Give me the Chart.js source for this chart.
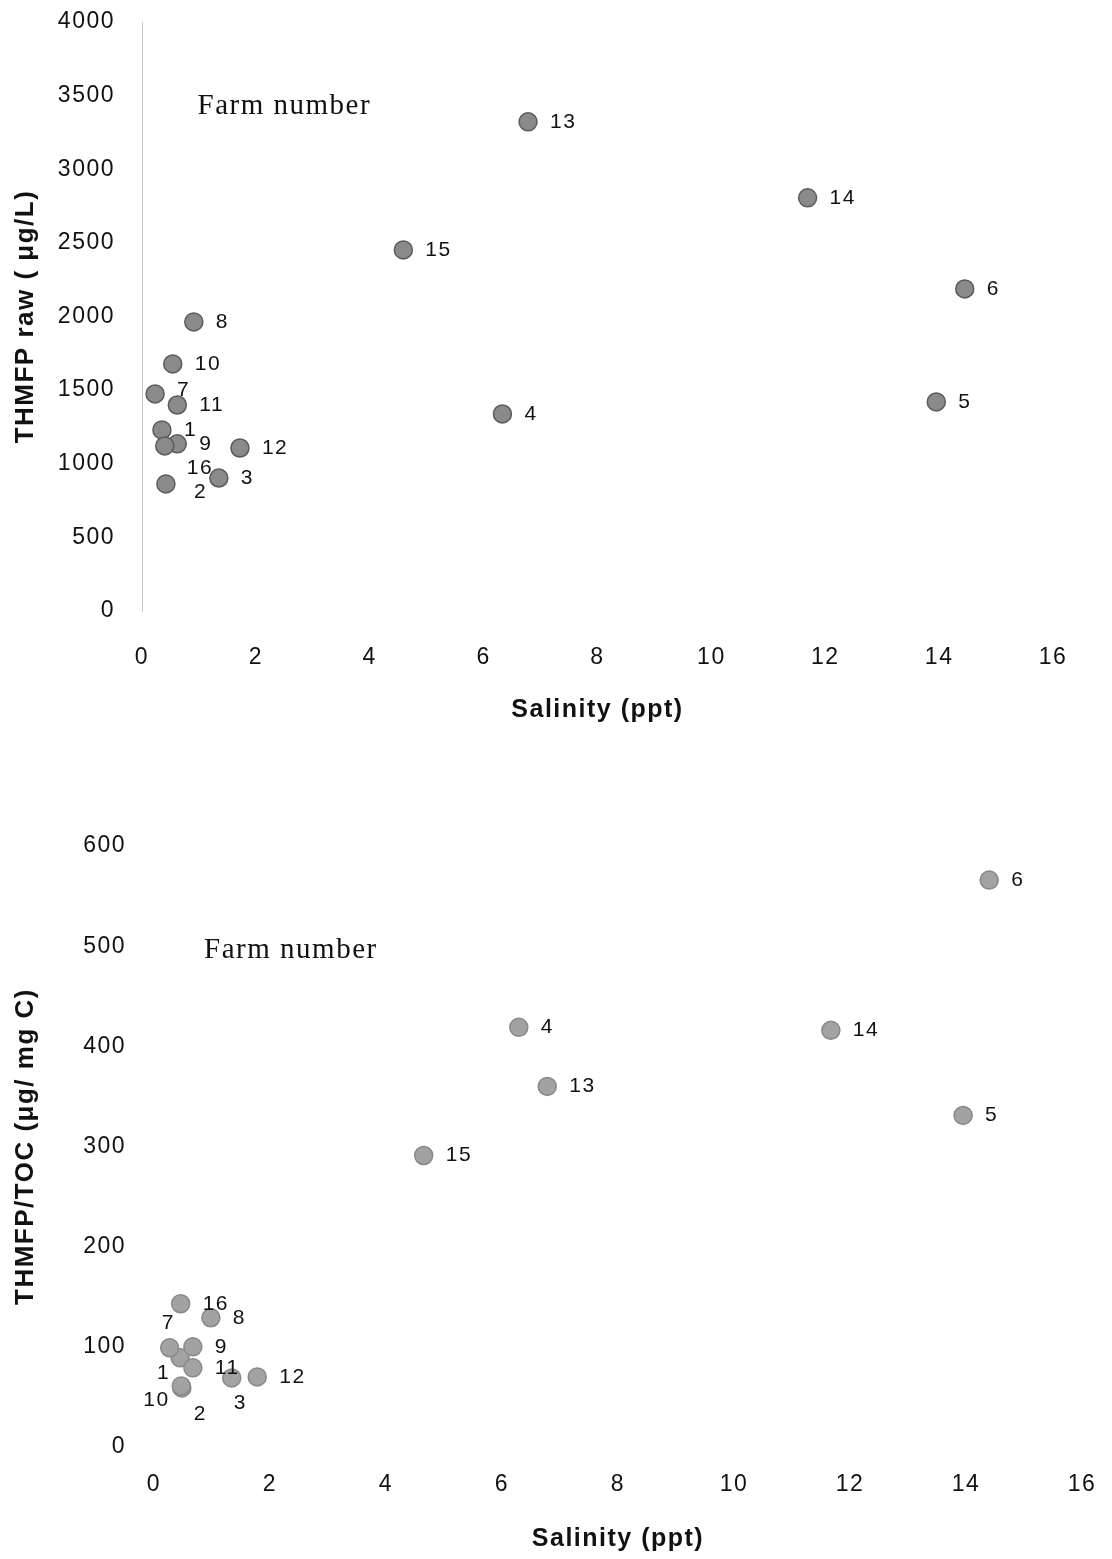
<!DOCTYPE html>
<html>
<head>
<meta charset="utf-8">
<script src="https://cdn.jsdelivr.net/npm/chart.js@4.4.0/dist/chart.umd.min.js"></script>
<style>
  html, body { margin: 0; padding: 0; background: #ffffff; }
  body { width: 1112px; height: 1559px; position: relative; overflow: hidden; }
  .wrap { position: absolute; left: 0; width: 1112px; }
  canvas { display: block; }
</style>
</head>
<body>
<div class="wrap" style="top:0px;height:725px"><canvas id="c1" width="1112" height="725"></canvas></div>
<div class="wrap" style="top:760px;height:794px"><canvas id="c2" width="1112" height="794"></canvas></div>
<script>
// ---------- DATA ----------
const xTicks = [0, 2, 4, 6, 8, 10, 12, 14, 16];

// Top panel: THMFP raw vs salinity
const farmsRaw    = [1, 2, 3, 4, 5, 6, 7, 8, 9, 10, 11, 12, 13, 14, 15, 16];
const salinityRaw = [0.35, 0.42, 1.35, 6.33, 13.95, 14.45, 0.23, 0.91, 0.62, 0.54, 0.62, 1.72, 6.78, 11.69, 4.59, 0.40];
const thmfpRaw    = [1230, 863, 903, 1338, 1420, 2187, 1474, 1963, 1135, 1678, 1399, 1107, 3322, 2806, 2452, 1121];
const yTicksRaw   = [0, 500, 1000, 1500, 2000, 2500, 3000, 3500, 4000];

// Bottom panel: THMFP/TOC vs salinity
const farmsToc    = [1, 2, 3, 4, 5, 6, 7, 8, 9, 10, 11, 12, 13, 14, 15, 16];
const salinityToc = [0.45, 0.48, 1.34, 6.29, 13.95, 14.40, 0.27, 0.98, 0.67, 0.47, 0.67, 1.78, 6.78, 11.67, 4.65, 0.46];
const thmfpToc    = [89, 59, 69, 419, 331, 566, 99, 129, 100, 61, 79, 70, 360, 416, 291, 143];
const yTicksToc   = [0, 100, 200, 300, 400, 500, 600];

// ---------- STYLE / LABEL PLACEMENT (not data) ----------
const labelNudgeRaw = { 7: [0, -4], 16: [0, 22], 2: [6, 8] };
const labelNudgeToc = { 7: [-30, -25], 1: [-45, 15], 10: [-60, 14], 2: [-10, 26], 3: [-20, 25] };

const tickFont = { family: "'Liberation Sans', Arial, sans-serif", size: 23 };
const xTitleFont = { family: "'Liberation Sans', Arial, sans-serif", size: 25, weight: 'bold' };
const yTitleFont = { family: "'Liberation Sans', Arial, sans-serif", size: 26, weight: 'bold' };

const spacing = {
  id: 'spacing',
  beforeDraw(chart) { chart.ctx.letterSpacing = '1.5px'; },
  afterDraw(chart) { chart.ctx.letterSpacing = '0px'; }
};

function pointLabels(labels, nudge) {
  return {
    id: 'pointLabels',
    afterDatasetsDraw(chart) {
      const ctx = chart.ctx;
      const meta = chart.getDatasetMeta(0);
      ctx.save();
      ctx.fillStyle = '#111';
      ctx.font = "21px 'Liberation Sans', Arial, sans-serif";
      ctx.textAlign = 'left';
      ctx.textBaseline = 'middle';
      meta.data.forEach((el, i) => {
        const f = labels[i];
        const n = nudge[f] || [0, 0];
        ctx.fillText(String(f), el.x + 22 + n[0], el.y + n[1]);
      });
      ctx.restore();
    }
  };
}

function noteText(text, xv, yv) {
  return {
    id: 'noteText',
    afterDatasetsDraw(chart) {
      const ctx = chart.ctx;
      const x = chart.scales.x.getPixelForValue(xv);
      const y = chart.scales.y.getPixelForValue(yv);
      ctx.save();
      ctx.fillStyle = '#111';
      ctx.font = "29px 'Liberation Serif', 'Times New Roman', serif";
      ctx.textAlign = 'center';
      ctx.textBaseline = 'middle';
      ctx.fillText(text, x, y);
      ctx.restore();
    }
  };
}

function makeChart(id, xs, ys, farms, cfg) {
  const pts = xs.map((x, i) => ({ x: x, y: ys[i] }));
  return new Chart(document.getElementById(id), {
    type: 'scatter',
    data: { datasets: [{
      data: pts,
      pointRadius: 9,
      pointHoverRadius: 9,
      backgroundColor: cfg.fill,
      borderColor: cfg.stroke,
      borderWidth: 1.5
    }] },
    options: {
      responsive: false,
      animation: false,
      events: [],
      layout: { padding: { left: 10, right: cfg.padRight, top: cfg.padTop, bottom: 0 } },
      plugins: { legend: { display: false }, tooltip: { enabled: false } },
      scales: {
        x: {
          type: 'linear', min: 0, max: 16,
          afterBuildTicks: s => { s.ticks = xTicks.map(v => ({ value: v })); },
          afterFit: s => { s.height = cfg.xHeight; },
          grid: { display: false, drawTicks: true, tickLength: cfg.xTickLen },
          border: { display: false },
          ticks: { font: tickFont, color: '#111', padding: 0, maxRotation: 0, autoSkip: false,
                   callback: v => String(v) },
          title: { display: true, text: 'Salinity (ppt)', font: xTitleFont, color: '#111', padding: 0 }
        },
        y: {
          type: 'linear', min: cfg.yTicks[0], max: cfg.yTicks[cfg.yTicks.length - 1],
          afterBuildTicks: s => { s.ticks = cfg.yTicks.map(v => ({ value: v })); },
          afterFit: s => { s.width = cfg.yWidth; },
          grid: { display: false, drawTicks: true, tickLength: cfg.yTickLen },
          border: { display: cfg.axisLine, color: '#c8c8c8', width: 1 },
          ticks: { font: tickFont, color: '#111', padding: 0, autoSkip: false,
                   callback: v => String(v) },
          title: { display: true, text: cfg.yTitle, font: yTitleFont, color: '#111', padding: 0 }
        }
      }
    },
    plugins: [spacing, pointLabels(farms, cfg.nudge), noteText('Farm number', cfg.noteX, cfg.noteY)]
  });
}

makeChart('c1', salinityRaw, thmfpRaw, farmsRaw, {
  fill: '#8a8a8a', stroke: '#5a5a5a',
  padRight: 59, padTop: 22, xHeight: 114, yWidth: 132,
  xTickLen: 33, yTickLen: 27,
  yTicks: yTicksRaw, yTitle: 'THMFP raw ( μg/L)',
  axisLine: true, nudge: labelNudgeRaw,
  noteX: 2.5, noteY: 3430
});

makeChart('c2', salinityToc, thmfpToc, farmsToc, {
  fill: '#a2a2a2', stroke: '#888888',
  padRight: 30, padTop: 86, xHeight: 107, yWidth: 144,
  xTickLen: 24, yTickLen: 28,
  yTicks: yTicksToc, yTitle: 'THMFP/TOC (μg/ mg C)',
  axisLine: false, nudge: labelNudgeToc,
  noteX: 2.36, noteY: 496
});
</script>
</body>
</html>
